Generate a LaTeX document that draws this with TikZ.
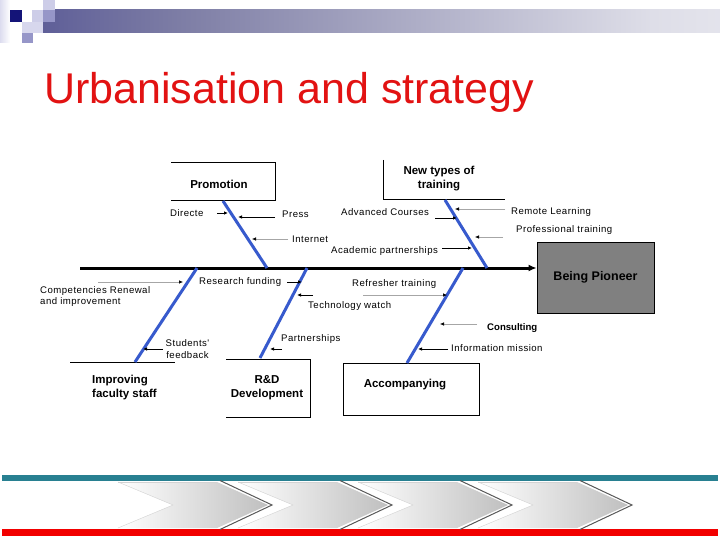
\documentclass[tikz,border=0pt]{standalone}
\usepackage{fontspec}
\setmainfont{Liberation Sans}
\newfontfamily\labfont{Liberation Sans}[LetterSpace=5]
\usetikzlibrary{arrows.meta}
\definecolor{bone}{RGB}{55,90,205}
\definecolor{titlered}{RGB}{226,18,18}
\definecolor{tealbar}{RGB}{40,128,145}
\definecolor{navy}{RGB}{20,20,120}
\definecolor{midlav}{RGB}{125,125,165}
\definecolor{lightgr}{RGB}{222,222,232}
\definecolor{lavA}{RGB}{205,205,232}
\definecolor{lavB}{RGB}{150,150,200}
\definecolor{pioneergray}{RGB}{128,128,128}
\pgfdeclarehorizontalshading{hbar}{100bp}{color(0bp)=(navy); color(35bp)=(midlav); color(70bp)=(lightgr); color(100bp)=(white)}
\begin{document}
\begin{tikzpicture}[x=1pt,y=-1pt,
  boneline/.style={draw=bone, line width=3pt},
  spine/.style={line width=3pt, -{Latex[length=8pt,width=7pt]}},
  lab/.style={font=\labfont\fontsize{9.6}{11.5}\selectfont, inner sep=0pt},
  boxlab/.style={font=\fontsize{11.5}{14}\selectfont\bfseries, inner sep=0pt, align=center},
  arr/.style={line width=0.8pt, -{Latex[length=4pt,width=3.5pt]}},
  garr/.style={draw=gray!70, line width=0.6pt, -{Latex[length=4pt,width=3.5pt,color=black]}},
  frame/.style={line width=0.8pt}]
\useasboundingbox (0,0) rectangle (720,540);
\fill[white] (0,0) rectangle (720,540);

% header decoration
\shade[left color=lavA!70, right color=white] (0,0) rectangle (10,43);
\shade[shading=hbar] (43,10) rectangle (720,33);
\fill[navy] (10,10) rectangle (22,22);
\fill[lavA] (32,10) rectangle (43,22);
\fill[lavA] (43,0) rectangle (55,10);
\fill[lavB] (43,10) rectangle (55,22);
\fill[lavA!80] (22,22) rectangle (43,33);
\fill[lavB] (22,33) rectangle (33,43);

% title
\node[anchor=base west, inner sep=0pt, text=titlered, font=\fontsize{43}{46}\selectfont] (title) at (44,104) {Urbanisation and strategy};

% spine and head box
\node[draw, frame, fill=pioneergray, minimum width=117pt, minimum height=71pt, inner sep=0pt,
      font=\fontsize{12.5}{14}\selectfont\bfseries] (pioneer) at (595.5,277.5) {Being Pioneer};
\coordinate (tail) at (80,268);
\draw[spine] (tail) -- (pioneer.west |- tail);

% top boxes
\draw[frame] (171,162) -- (275,162) -- (275,200) -- (171,200);
\node[boxlab] (promotion) at (219,184) {Promotion};
\draw[frame] (383,160) -- (383,199) -- (505,199);
\node[boxlab] (training) at (439,178.5) {New types of\\training};

% bottom boxes
\draw[frame] (70,362) -- (175,362);
\node[boxlab, align=left, anchor=west] (faculty) at (92,388) {Improving\\faculty staff};
\draw[frame] (226,359) -- (310,359) -- (310,417) -- (226,417);
\node[boxlab] (rnd) at (267,388) {R\&D\\Development};
\node[draw, frame, minimum width=136pt, minimum height=52pt, inner sep=0pt] (accbox) at (411,389) {};
\node[boxlab] (accompanying) at (405,385) {Accompanying};

% bones
\coordinate (promoB) at (223,201);  \coordinate (promoS) at (267,268);
\coordinate (trainB) at (445,200);  \coordinate (trainS) at (487,268);
\coordinate (facB) at (135,362);    \coordinate (facS) at (197,268);
\coordinate (rndB) at (260,358);    \coordinate (rndS) at (307,268);
\coordinate (accB) at (407,363);    \coordinate (accS) at (463,268);
\draw[boneline] (promoB) -- (promoS);
\draw[boneline] (trainB) -- (trainS);
\draw[boneline] (facB) -- (facS);
\draw[boneline] (rndB) -- (rndS);
\draw[boneline] (accB) -- (accS);

% labels
\node[lab, anchor=west] (directe) at (170,213) {Directe};
\node[lab, anchor=west] (press) at (282,214.5) {Press};
\node[lab, anchor=west] (internet) at (292,239) {Internet};
\node[lab, anchor=west] (academic) at (331,251) {Academic partnerships};
\node[lab, anchor=west] (advanced) at (341,212) {Advanced Courses};
\node[lab, anchor=west] (remote) at (511,212) {Remote Learning};
\node[lab, anchor=west] (professional) at (516,230) {Professional training};
\node[lab, anchor=north west, align=left] (competencies) at (40,286) {Competencies Renewal\\and improvement};
\node[lab, anchor=west] (research) at (199,282) {Research funding};
\node[lab, anchor=west] (refresher) at (352,284) {Refresher training};
\node[lab, anchor=west] (technology) at (308,306) {Technology watch};
\node[lab, anchor=west] (partnerships) at (281,339) {Partnerships};
\node[lab, align=center] (students) at (187.5,349) {Students'\\feedback};
\node[lab, anchor=west, font=\fontsize{9.6}{11.5}\selectfont\bfseries] (consulting) at (487,328) {Consulting};
\node[lab, anchor=west] (information) at (451,348) {Information mission};

% small arrows
\coordinate (dirA) at (217,213);  \coordinate (dirB) at (228,213);
\coordinate (preA) at (275,217);  \coordinate (preB) at (238,217);
\coordinate (intA) at (288,239);  \coordinate (intB) at (252,239);
\coordinate (acaA) at (442,248);  \coordinate (acaB) at (472,248);
\coordinate (advA) at (435,218);  \coordinate (advB) at (457,218);
\coordinate (remA) at (505,209);  \coordinate (remB) at (455,209);
\coordinate (proA) at (503,237);  \coordinate (proB) at (475,237);
\coordinate (comA) at (98,282);   \coordinate (comB) at (183,282);
\coordinate (resA) at (287,282);  \coordinate (resB) at (302,282);
\coordinate (tecA) at (313,295);  \coordinate (tecB) at (297,295);
\coordinate (refA) at (363,295);  \coordinate (refB) at (447,295);
\coordinate (parA) at (282,349);  \coordinate (parB) at (270,349);
\coordinate (stuA) at (163,349);  \coordinate (stuB) at (143,349);
\coordinate (conA) at (477,324);  \coordinate (conB) at (440,324);
\coordinate (infA) at (448,349);  \coordinate (infB) at (418,349);
\draw[arr] (dirA) -- (dirB);
\draw[arr] (preA) -- (preB);
\draw[garr] (intA) -- (intB);
\draw[arr] (acaA) -- (acaB);
\draw[arr] (advA) -- (advB);
\draw[garr] (remA) -- (remB);
\draw[garr] (proA) -- (proB);
\draw[garr] (comA) -- (comB);
\draw[arr] (resA) -- (resB);
\draw[arr] (tecA) -- (tecB);
\draw[garr] (refA) -- (refB);
\draw[arr] (parA) -- (parB);
\draw[arr] (stuA) -- (stuB);
\draw[garr] (conA) -- (conB);
\draw[arr] (infA) -- (infB);

% footer
\fill[tealbar] (2,475) rectangle (718,481);
\fill[red!95!black] (2,529) rectangle (718,536);
\foreach \l in {118,238,358,478}{
  \shade[left color=white, right color=gray!50]
    (\l,482) -- (\l+99,482) -- (\l+150,505) -- (\l+99,528) -- (\l,528) -- (\l+55,505) -- cycle;
  \draw[gray!35, line width=0.4pt] (\l,482) -- (\l+55,505) -- (\l,528);
  \draw[gray!35, line width=0.5pt] (\l,482) -- (\l+99,482);
  \draw[black!65, line width=1pt] (\l+102,480.5) -- (\l+154,505) -- (\l+102,529.5);
}
\end{tikzpicture}
\end{document}
